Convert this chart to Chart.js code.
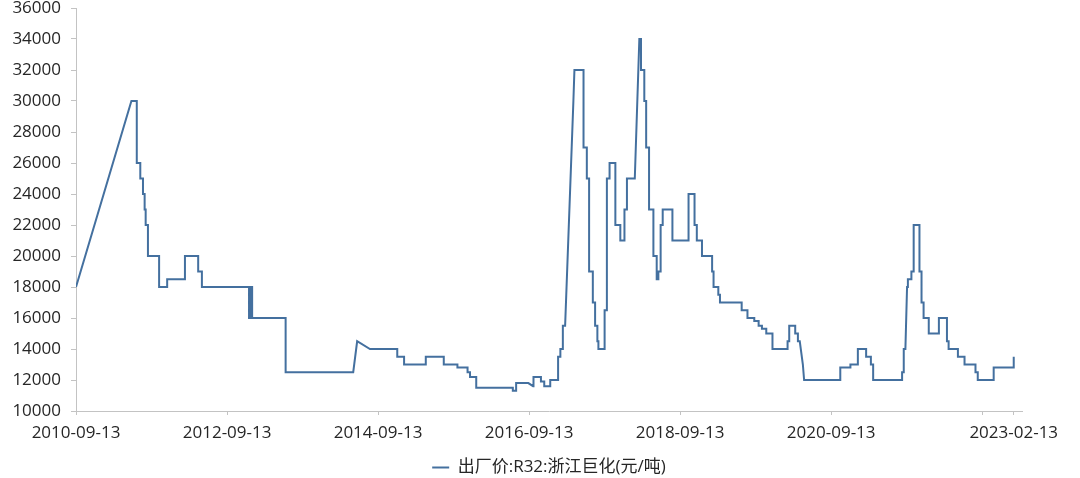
<!DOCTYPE html>
<html lang="zh-CN">
<head>
  <meta charset="UTF-8">
  <title>出厂价:R32:浙江巨化</title>
  <script src="https://cdn.jsdelivr.net/npm/chart.js"></script>
  <style>
    html, body { margin: 0; padding: 0; background: #fff; }
  </style>
</head>
<body>
  <canvas id="priceChart" width="1080" height="478"></canvas>

  <script>
    const seriesName = '出厂价:R32:浙江巨化(元/吨)';

    // dates where the price changes, and the level it moves to
    const changeDates = [
      '2010-09-13', '2011-06-08', '2011-07-04', '2011-07-21', '2011-08-03', '2011-08-11',
      '2011-08-16', '2011-08-27', '2011-10-20', '2011-11-28', '2012-02-22', '2012-04-26',
      '2012-05-14', '2012-12-28', '2013-01-06', '2013-01-12', '2013-06-23', '2014-05-16',
      '2014-06-04', '2014-08-05', '2014-12-15', '2015-01-17', '2015-05-02', '2015-07-28',
      '2015-10-02', '2015-11-20', '2015-12-02', '2016-01-01', '2016-06-26', '2016-07-12',
      '2016-09-09', '2016-10-02', '2016-10-04', '2016-11-09', '2016-11-25', '2016-12-24',
      '2017-01-31', '2017-02-11', '2017-02-23', '2017-03-06', '2017-04-15', '2017-04-20',
      '2017-06-03', '2017-06-19', '2017-06-30', '2017-07-18', '2017-07-29', '2017-08-09',
      '2017-08-14', '2017-09-13', '2017-09-24', '2017-10-07', '2017-11-04', '2017-11-28',
      '2017-12-18', '2017-12-30', '2018-02-06', '2018-02-28', '2018-03-08', '2018-03-24',
      '2018-04-02', '2018-04-16', '2018-05-07', '2018-05-23', '2018-05-31', '2018-06-11',
      '2018-06-21', '2018-08-07', '2018-10-24', '2018-11-22', '2018-12-03', '2018-12-28',
      '2019-02-15', '2019-02-22', '2019-03-17', '2019-03-25', '2019-07-08', '2019-08-05',
      '2019-09-07', '2019-09-28', '2019-10-14', '2019-11-04', '2019-12-04', '2020-02-15',
      '2020-02-23', '2020-03-23', '2020-04-05', '2020-04-14', '2020-04-29', '2020-05-05',
      '2020-10-27', '2020-12-15', '2021-01-20', '2021-03-01', '2021-03-24', '2021-04-04',
      '2021-08-22', '2021-08-30', '2021-09-07', '2021-09-15', '2021-09-19', '2021-10-06',
      '2021-10-17', '2021-11-14', '2021-11-24', '2021-12-04', '2021-12-29', '2022-02-16',
      '2022-03-27', '2022-04-04', '2022-05-19', '2022-06-20', '2022-08-12', '2022-08-23',
      '2022-11-08', '2023-02-13'
    ];
    const changeLevels = [
      18000, 30000, 26000, 25000, 24000, 23000,
      22000, 20000, 18000, 18500, 20000, 19000,
      18000, 16000, 18000, 16000, 12500, 12500,
      14500, 14000, 13500, 13000, 13500, 13000,
      12800, 12500, 12200, 11500, 11300, 11800,
      11800, 11600, 12200, 11900, 11600, 12000,
      13500, 14000, 15500, 15500, 30000, 32000,
      27000, 25000, 19000, 17000, 15500, 14500,
      14000, 16500, 25000, 26000, 22000, 21000,
      23000, 25000, 25000, 34000, 32000, 30000,
      27000, 23000, 20000, 18500, 19000, 22000,
      23000, 21000, 24000, 22000, 21000, 20000,
      19000, 18000, 17500, 17000, 16500, 16000,
      15800, 15500, 15300, 15000, 14000, 14500,
      15500, 15000, 14500, 14500, 13000, 12000,
      12800, 13000, 14000, 13500, 13000, 12000,
      12500, 14000, 14000, 18000, 18500, 19000,
      22000, 19000, 17000, 16000, 15000, 16000,
      14500, 14000, 13500, 13000, 12500, 12000,
      12800, 13500
    ];
    // changes reached by a sloped line instead of a vertical step
    const rampDates = [
      '2011-06-08', '2014-06-04', '2014-08-05', '2016-10-02', '2017-04-15', '2017-04-20',
      '2018-02-28', '2020-04-29', '2020-05-05', '2021-09-15'
    ];

    const tickDates = ['2010-09-13', '2012-09-13', '2014-09-13', '2016-09-13', '2018-09-13', '2020-09-13', '2022-09-13', '2023-02-13'];
    const tickLabels = ['2010-09-13', '2012-09-13', '2014-09-13', '2016-09-13', '2018-09-13', '2020-09-13', '', '2023-02-13'];
    const axisEnd = '2023-03-25';

    const lineColor = '#44709f';
    const textColor = '#262626';
    const axisColor = '#c3c3c3';
    const fontFamily = '"Open Sans", "Noto Sans CJK SC", sans-serif';

    const origin = Date.parse(changeDates[0]);
    const toDay = d => (Date.parse(d) - origin) / 86400000;

    const points = [];
    changeDates.forEach((d, i) => {
      const x = toDay(d);
      if (i > 0 && !rampDates.includes(d)) points.push({ x: x, y: changeLevels[i - 1] });
      points.push({ x: x, y: changeLevels[i] });
    });

    const ctx = document.getElementById('priceChart').getContext('2d');
    new Chart(ctx, {
      type: 'line',
      data: {
        datasets: [{
          label: seriesName,
          data: points,
          borderColor: lineColor,
          backgroundColor: lineColor,
          borderWidth: 2,
          pointRadius: 0,
          tension: 0,
          fill: false
        }]
      },
      options: {
        responsive: false,
        animation: false,
        layout: { padding: { top: 0, right: 58, bottom: -8, left: 0 } },
        plugins: {
          tooltip: { enabled: false },
          legend: {
            position: 'bottom',
            fullSize: false,
            labels: {
              usePointStyle: true,
              pointStyle: 'line',
              pointStyleWidth: 17,
              color: textColor,
              font: { family: fontFamily, size: 17 },
              padding: 2
            }
          }
        },
        scales: {
          x: {
            type: 'linear',
            min: 0,
            max: toDay(axisEnd),
            afterBuildTicks: scale => {
              scale.ticks = tickDates.map(d => ({ value: toDay(d) }));
            },
            afterFit: scale => { scale.height = 46; },
            ticks: {
              autoSkip: false,
              maxRotation: 0,
              color: textColor,
              font: { family: fontFamily, size: 17 },
              padding: 8,
              callback: (value, index) => tickLabels[index]
            },
            grid: { drawOnChartArea: false, tickLength: 4, color: axisColor },
            border: { color: axisColor }
          },
          y: {
            min: 10000,
            max: 36000,
            afterFit: scale => {
              scale.width = 76;
              scale.paddingTop = 8;
              scale.paddingBottom = 0;
            },
            ticks: {
              stepSize: 2000,
              color: textColor,
              font: { family: fontFamily, size: 17 },
              padding: 10,
              callback: value => String(value)
            },
            grid: { drawOnChartArea: false, tickLength: 5, color: axisColor },
            border: { color: axisColor }
          }
        }
      }
    });
  </script>
</body>
</html>
